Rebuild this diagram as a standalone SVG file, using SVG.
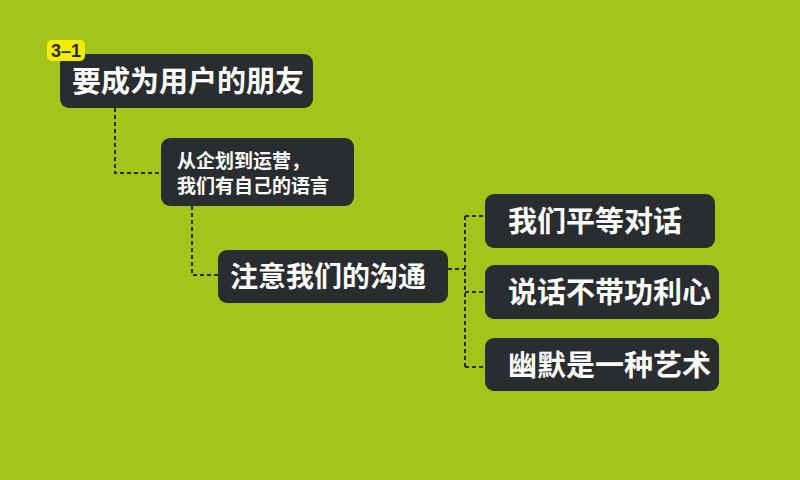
<svg xmlns="http://www.w3.org/2000/svg" width="800" height="480" viewBox="0 0 800 480">
<defs>
<style>
.box{fill:#2a2d2f;}
.t{fill:#ffffff;font-family:"Noto Sans CJK SC","Noto Sans",sans-serif;font-weight:bold;}
.c{fill:none;stroke:#2a2d2f;stroke-width:2;stroke-dasharray:4 3;}
</style>
</defs>
<rect width="800" height="480" fill="#a5c41b"/>
<g id="connectors">
<path class="c" d="M115,108 V173 H161"/>
<path class="c" d="M192,206 V275 H218"/>
<path class="c" d="M448,269 H465"/>
<path class="c" d="M465,216 V368"/>
<path class="c" d="M465,216 H485 M465,292 H485 M465,367 H485"/>
</g>
<g id="n1">
<rect class="box" x="60" y="54" width="253" height="54" rx="9"/>
<text class="t" x="72" y="92" font-size="29">要成为用户的朋友</text>
</g>
<g id="badge">
<rect x="47" y="40" width="38" height="21" rx="5" fill="#f2ee00"/>
<text x="66" y="57" text-anchor="middle" font-family="'Liberation Sans',sans-serif" font-weight="bold" font-size="18" fill="#2a2d2f">3–1</text>
</g>
<g id="n2">
<rect class="box" x="161" y="138" width="193" height="68" rx="9"/>
<text class="t" x="177" y="168" font-size="19">从企划到运营，</text>
<text class="t" x="177" y="193" font-size="19">我们有自己的语言</text>
</g>
<g id="n3">
<rect class="box" x="218" y="250" width="230" height="53" rx="9"/>
<text class="t" x="230" y="287" font-size="28">注意我们的沟通</text>
</g>
<g id="n4">
<rect class="box" x="485" y="194" width="230" height="54" rx="9"/>
<text class="t" x="508" y="232" font-size="29">我们平等对话</text>
</g>
<g id="n5">
<rect class="box" x="485" y="265" width="234" height="54" rx="9"/>
<text class="t" x="508" y="303" font-size="29">说话不带功利心</text>
</g>
<g id="n6">
<rect class="box" x="485" y="338" width="234" height="53" rx="9"/>
<text class="t" x="508" y="376" font-size="29">幽默是一种艺术</text>
</g>
</svg>
